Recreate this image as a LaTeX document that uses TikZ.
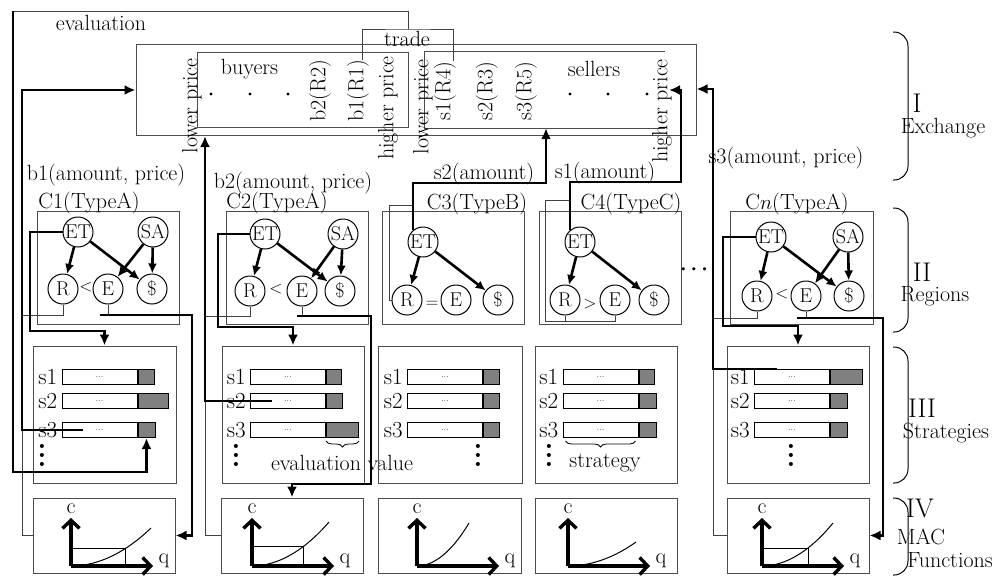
\documentclass[tikz,border=0pt]{standalone}
\usepackage{amsmath}
\usepackage{tikz}
\usetikzlibrary{positioning, arrows.meta, calc, decorations.pathreplacing}

\begin{document}
\begin{tikzpicture}[
        x=1pt, y=-1pt,
        font=\fontsize{22}{26}\selectfont,
        box/.style={
            rectangle,
            draw=black!70,
            line width=1pt,
            inner sep=0pt
        },
        agent/.style={
            circle,
            draw,
            line width=1pt,
            minimum size=30pt,
            inner sep=0pt,
            font=\fontsize{20}{20}\selectfont
        },
        rel/.style={
            inner sep=0pt,
            font=\fontsize{19}{19}\selectfont
        },
        vtext/.style={
            rotate=90,
            inner sep=0pt
        },
        bar/.style={
            rectangle,
            draw,
            line width=1pt,
            minimum width=75pt,
            minimum height=15pt,
            inner sep=0pt,
            font=\fontsize{9}{9}\selectfont
        },
        score/.style={
            rectangle,
            draw,
            line width=1pt,
            fill=black!50,
            minimum height=15pt,
            inner sep=0pt
        },
        slabel/.style={
            inner sep=0pt,
            font=\fontsize{23}{23}\selectfont
        },
        vdotsnode/.style={
            align=center,
            inner sep=0pt,
            font=\bfseries\fontsize{28}{9}\selectfont
        },
        roman/.style={
            inner sep=0pt,
            font=\fontsize{27}{27}\selectfont
        },
        link/.style={
            -{Latex[length=10pt, width=9pt]},
            line width=2.6pt
        },
        conn/.style={
            line width=2.8pt
        },
        arrow/.style={
            conn,
            -{Latex[length=11pt, width=10pt]}
        },
        wire/.style={
            line width=1pt,
            draw=black!75
        },
        axis/.style={
            line width=3.4pt,
            -{Straight Barb[length=8pt, width=17pt]}
        },
        layer/.style={
            line width=1pt,
            rounded corners=14pt
        }
    ]

    \useasboundingbox (0,0) rectangle (1002,576);

    % --------------------------------------------------------
    % Exchange
    % --------------------------------------------------------

    \node[box, minimum width=560pt, minimum height=91pt] (exchange)
        at (416,89.5) {};

    \node[box, minimum width=211pt, minimum height=75pt] (buyers)
        at (302.5,89.5) {};

    \node[minimum width=240pt, minimum height=76pt, inner sep=0pt] (sellers)
        at (545,90) {};
    \draw[draw=black!70, line width=1pt]
        (sellers.north east) -- (sellers.north west)
        -- (sellers.south west) -- (sellers.south east);

    \node (buyerstxt) at (249.5,69) {buyers};
    \node (sellerstxt) at (594,69) {sellers};

    \fill (211,94) circle (1.7pt) (250,94) circle (1.7pt) (288,94) circle (1.7pt);
    \fill (570,94) circle (1.7pt) (608,94) circle (1.7pt) (647,94) circle (1.7pt);

    \node[vtext] (lowleft) at (192,106) {lower price};
    \node[vtext] (b2r2) at (320,91) {b2(R2)};
    \node[vtext] (b1r1) at (358,91) {b1(R1)};
    \node[vtext] (highleft) at (388,108) {higher price};
    \node[vtext] (lowright) at (423,107) {lower price};
    \node[vtext] (s1r4) at (445,91) {s1(R4)};
    \node[vtext] (s2r3) at (487,91) {s2(R3)};
    \node[vtext] (s3r5) at (526,91) {s3(R5)};
    \node[vtext] (highright) at (662,111) {higher price};

    \node (trade) at (407,39) {trade};
    \node (evaltxt) at (101,23) {evaluation};

    % --------------------------------------------------------
    % Regions
    % --------------------------------------------------------

    % C1
    \node[box, minimum width=142pt, minimum height=113pt] (c1reg) at (108,267.5) {};
    \node (c1tag) at (89,203) {C1(TypeA)};
    \node[agent] (c1et) at (78,232) {ET};
    \node[agent] (c1sa) at (153,232) {SA};
    \node[agent] (c1r) at (63,289) {R};
    \node[agent] (c1e) at (108,289) {E};
    \node[agent] (c1d) at (152,289) {\$};
    \node[rel] (c1rel) at (86,287) {$<$};

    % C2
    \node[box, minimum width=142pt, minimum height=113pt] (c2reg) at (297,267.5) {};
    \node (c2tag) at (277,203) {C2(TypeA)};
    \node[agent] (c2et) at (265,234) {ET};
    \node[agent] (c2sa) at (343,234) {SA};
    \node[agent] (c2r) at (250,291) {R};
    \node[agent] (c2e) at (302,291) {E};
    \node[agent] (c2d) at (340,291) {\$};
    \node[rel] (c2rel) at (276,289) {$<$};

    % C3
    \node[box, minimum width=142pt, minimum height=113pt] (c3reg) at (453,267.5) {};
    \node (c3tag) at (477,204) {C3(TypeB)};
    \node[agent] (c3et) at (423,242) {ET};
    \node[agent] (c3r) at (407,300) {R};
    \node[agent] (c3e) at (456,300) {E};
    \node[agent] (c3d) at (498,300) {\$};
    \node[rel] (c3rel) at (432,304) {$=$};

    % C4
    \node[box, minimum width=142pt, minimum height=113pt] (c4reg) at (610,267.5) {};
    \node (c4tag) at (631,204) {C4(TypeC)};
    \node[agent] (c4et) at (580,242) {ET};
    \node[agent] (c4r) at (565,300) {R};
    \node[agent] (c4e) at (615,300) {E};
    \node[agent] (c4d) at (654,300) {\$};
    \node[rel] (c4rel) at (590,304) {$>$};

    \node (more) at (696,270) {$\boldsymbol{\cdots}$};

    % Cn
    \node[box, minimum width=143pt, minimum height=113pt] (cnreg) at (801.5,267.5) {};
    \node (cntag) at (797,204) {C$n$(TypeA)};
    \node[agent] (cnet) at (771,237) {ET};
    \node[agent] (cnsa) at (848,237) {SA};
    \node[agent] (cnr) at (757,296) {R};
    \node[agent] (cne) at (806,296) {E};
    \node[agent] (cnd) at (849,296) {\$};
    \node[rel] (cnrel) at (782,294) {$<$};

    % --------------------------------------------------------
    % Strategies
    % --------------------------------------------------------

    % C1
    \node[box, minimum width=143pt, minimum height=137pt] (c1str) at (104.5,414.5) {};
    \node[bar] (c1w1) at (99.5,377) {...};
    \node[bar] (c1w2) at (99.5,401) {...};
    \node[bar] (c1w3) at (99.5,430) {...};
    \node[score, minimum width=16pt, right=0pt of c1w1] (c1g1) {};
    \node[score, minimum width=30pt, right=0pt of c1w2] (c1g2) {};
    \node[score, minimum width=17pt, right=0pt of c1w3] (c1g3) {};
    \node[slabel, left=4pt of c1w1] (c1s1) {s1};
    \node[slabel, left=4pt of c1w2] (c1s2) {s2};
    \node[slabel, left=4pt of c1w3] (c1s3) {s3};
    \node[vdotsnode] (c1dots) at (42,455) {.\\.\\.};

    % C2
    \node[box, minimum width=142pt, minimum height=137pt] (c2str) at (293,414.5) {};
    \node[bar] (c2w1) at (288,377) {...};
    \node[bar] (c2w2) at (288,401) {...};
    \node[bar] (c2w3) at (288,430) {...};
    \node[score, minimum width=15pt, right=0pt of c2w1] (c2g1) {};
    \node[score, minimum width=16pt, right=0pt of c2w2] (c2g2) {};
    \node[score, minimum width=32pt, right=0pt of c2w3] (c2g3) {};
    \node[slabel, left=4pt of c2w1] (c2s1) {s1};
    \node[slabel, left=4pt of c2w2] (c2s2) {s2};
    \node[slabel, left=4pt of c2w3] (c2s3) {s3};
    \node[vdotsnode] (c2dots) at (236,455) {.\\.\\.};

    \draw[line width=0.8pt, decorate, decoration={brace, mirror, amplitude=6pt}]
        ([yshift=-3pt]c2g3.south west) -- ([yshift=-3pt]c2g3.south east);
    \node[inner sep=1pt] (evalval) at (342,463) {evaluation value};

    % C3
    \node[box, minimum width=144pt, minimum height=137pt] (c3str) at (450,414.5) {};
    \node[bar] (c3w1) at (445,377) {...};
    \node[bar] (c3w2) at (445,401) {...};
    \node[bar] (c3w3) at (445,430) {...};
    \node[score, minimum width=16pt, right=0pt of c3w1] (c3g1) {};
    \node[score, minimum width=16pt, right=0pt of c3w2] (c3g2) {};
    \node[score, minimum width=16pt, right=0pt of c3w3] (c3g3) {};
    \node[slabel, left=4pt of c3w1] (c3s1) {s1};
    \node[slabel, left=4pt of c3w2] (c3s2) {s2};
    \node[slabel, left=4pt of c3w3] (c3s3) {s3};
    \node[vdotsnode] (c3dots) at (478,455) {.\\.\\.};

    % C4
    \node[box, minimum width=142pt, minimum height=137pt] (c4str) at (606,414.5) {};
    \node[bar] (c4w1) at (600.5,377) {...};
    \node[bar] (c4w2) at (600.5,401) {...};
    \node[bar] (c4w3) at (600.5,430) {...};
    \node[score, minimum width=15pt, right=0pt of c4w1] (c4g1) {};
    \node[score, minimum width=17pt, right=0pt of c4w2] (c4g2) {};
    \node[score, minimum width=17pt, right=0pt of c4w3] (c4g3) {};
    \node[slabel, left=4pt of c4w1] (c4s1) {s1};
    \node[slabel, left=4pt of c4w2] (c4s2) {s2};
    \node[slabel, left=4pt of c4w3] (c4s3) {s3};
    \node[vdotsnode] (c4dots) at (549,455) {.\\.\\.};

    \draw[line width=0.8pt, decorate, decoration={brace, mirror, amplitude=6pt}]
        ([xshift=3pt, yshift=-3pt]c4w3.south west)
        -- ([xshift=-3pt, yshift=-3pt]c4w3.south east);
    \node[inner sep=1pt] (strat) at (605,463) {strategy};

    % Cn
    \node[box, minimum width=142pt, minimum height=137pt] (cnstr) at (798,414.5) {};
    \node[bar] (cnw1) at (792,377) {...};
    \node[bar] (cnw2) at (792,401) {...};
    \node[bar] (cnw3) at (792,430) {...};
    \node[score, minimum width=32pt, right=0pt of cnw1] (cng1) {};
    \node[score, minimum width=17pt, right=0pt of cnw2] (cng2) {};
    \node[score, minimum width=17pt, right=0pt of cnw3] (cng3) {};
    \node[slabel, left=4pt of cnw1] (cns1) {s1};
    \node[slabel, left=4pt of cnw2] (cns2) {s2};
    \node[slabel, left=4pt of cnw3] (cns3) {s3};
    \node[vdotsnode] (cndots) at (791,455) {.\\.\\.};

    % --------------------------------------------------------
    % MAC functions
    % --------------------------------------------------------

    \node[box, minimum width=142pt, minimum height=75pt] (c1mac) at (104,535.5) {};
    \node[box, minimum width=142pt, minimum height=75pt] (c2mac) at (292,535.5) {};
    \node[box, minimum width=143pt, minimum height=75pt] (c3mac) at (449.5,535.5) {};
    \node[box, minimum width=142pt, minimum height=75pt] (c4mac) at (606,535.5) {};
    \node[box, minimum width=142pt, minimum height=75pt] (cnmac) at (798,535.5) {};

    \coordinate (c1o) at (71,566);
    \coordinate (c2o) at (252,566);
    \coordinate (c3o) at (417,566);
    \coordinate (c4o) at (568,566);
    \coordinate (cno) at (762,566);

    % C1 curve
    \draw[wire, draw=black] (71,548) -| (125,566);
    \draw[wire, draw=black] (c1o) parabola (151,528);
    \draw[axis] (c1o) -- ++(0,-48) node[above, inner sep=3pt] (c1c) {c};
    \draw[axis] (c1o) -- ++(82,0)
        node[anchor=base west, inner sep=0pt, xshift=4pt, yshift=3pt] (c1q) {q};

    % C2 curve
    \draw[wire, draw=black] (252,546) -| (303,568);
    \draw[wire, draw=black] (c2o) parabola (329,522);
    \draw[axis] (c2o) -- ++(0,-48) node[above, inner sep=3pt] (c2c) {c};
    \draw[axis] (c2o) -- ++(82,0)
        node[anchor=base west, inner sep=0pt, xshift=4pt, yshift=3pt] (c2q) {q};

    % C3 curve
    \draw[wire, draw=black] (c3o) parabola (469,523);
    \draw[axis] (c3o) -- ++(0,-48) node[above, inner sep=3pt] (c3c) {c};
    \draw[axis] (c3o) -- ++(82,0)
        node[anchor=base west, inner sep=0pt, xshift=4pt, yshift=3pt] (c3q) {q};

    % C4 curve
    \draw[wire, draw=black] (c4o) parabola (636,542);
    \draw[axis] (c4o) -- ++(0,-48) node[above, inner sep=3pt] (c4c) {c};
    \draw[axis] (c4o) -- ++(82,0)
        node[anchor=base west, inner sep=0pt, xshift=4pt, yshift=3pt] (c4q) {q};

    % Cn curve
    \draw[wire, draw=black] (762,548) -| (808,566);
    \draw[wire, draw=black] (cno) parabola (833,523);
    \draw[axis] (cno) -- ++(0,-48) node[above, inner sep=3pt] (cnc) {c};
    \draw[axis] (cno) -- ++(82,0)
        node[anchor=base west, inner sep=0pt, xshift=4pt, yshift=3pt] (cnq) {q};

    % --------------------------------------------------------
    % Layers
    % --------------------------------------------------------

    \draw[layer] (893,32) -| (908,180) -- (893,180);
    \node[roman] (lvl1) at (917,103) {I};
    \node (lvl1txt) at (943,128) {Exchange};

    \draw[layer] (893,208) -| (908,332) -- (893,332);
    \node[roman] (lvl2) at (922,272) {II};
    \node (lvl2txt) at (935,296) {Regions};

    \draw[layer] (893,347) -| (908,483) -- (893,483);
    \node[roman] (lvl3) at (922,408) {III};
    \node (lvl3txt) at (946,433) {Strategies};

    \draw[layer] (893,498) -| (908,575) -- (893,575);
    \node[roman] (lvl4) at (920,508) {IV};
    \node (lvl4txt) at (921,537) {MAC};
    \node (lvl4txt2) at (950,560) {Functions};

    % --------------------------------------------------------
    % Connector labels
    % --------------------------------------------------------

    \node (b1lab) at (106,175) {b1(amount, price)};
    \node (b2lab) at (293,183) {b2(amount, price)};
    \node (s2lab) at (484,174) {s2(amount)};
    \node (s1lab) at (605,173) {s1(amount)};
    \node (s3lab) at (786,158) {s3(amount, price)};

    % --------------------------------------------------------
    % Turning points
    % --------------------------------------------------------

    \coordinate (tradetop) at (408,29);
    \coordinate (evaltop) at (13,11);
    \coordinate (evalbot) at (13,472);

    \coordinate (b1turn) at (22,90);
    \coordinate (c1loop) at (30,331);
    \coordinate (c1rail) at (22,315);
    \coordinate (c1ebar) at (100,315);
    \coordinate (c1drop) at (192,315);

    \coordinate (b2foot) at (205,136);
    \coordinate (c2loop) at (218,327);
    \coordinate (c2rail) at (205,316);
    \coordinate (c2ebar) at (297,316);
    \coordinate (c2drop) at (371,316);
    \coordinate (c2low) at (371,484);

    \coordinate (c3hook) at (389,205);
    \coordinate (s2turn) at (546,183);

    \coordinate (c4hook) at (545,321);
    \coordinate (c4top) at (570,200);
    \coordinate (s1turn) at (681,182);
    \coordinate (s1tip) at (669,90);

    \coordinate (cnloop) at (723,326);
    \coordinate (cnrail) at (713,318);
    \coordinate (cnebar) at (797,318);
    \coordinate (cndrop) at (883,318);
    \coordinate (s3turn) at (713,89);

    % --------------------------------------------------------
    % Thin wires
    % --------------------------------------------------------

    % trade and evaluation
    \draw[wire]
        ([xshift=4pt]b1r1.east) |- (tradetop) -| ([xshift=8pt]s1r4.east);
    \draw[wire]
        (tradetop) |- (evaltop);

    % R lines to the MAC functions
    \draw[wire] (c1r.south) |- (c1rail) |- (c1mac.west);
    \draw[wire] (c2r.south) |- (c2rail) |- (c2mac.west);
    \draw[wire] (cnr.south) |- (cnrail) |- (cnmac.west);

    % E stubs
    \draw[wire] (c1e.south) -- (c1e.south |- c1ebar);
    \draw[wire] (c2e.south) -- (c2e.south |- c2ebar);
    \draw[wire] (cne.south) -- (cne.south |- cnebar);

    % C3, C4 hooks
    \draw[wire] (c3r.west) -| (c3hook) -- (c3hook -| c3et.130);
    \draw[wire] (c4r.south) -- (c4r.south |- c4hook);
    \draw[wire] (c4e.south) |- (c4hook) |- (c4top);

    % --------------------------------------------------------
    % Region arrows
    % --------------------------------------------------------

    \draw[link] (c1et) -- (c1r);
    \draw[link] (c1et) -- (c1d);
    \draw[link] (c1sa) -- (c1e);
    \draw[link] (c1sa) -- (c1d);

    \draw[link] (c2et) -- (c2r);
    \draw[link] (c2et) -- (c2d);
    \draw[link] (c2sa) -- (c2e);
    \draw[link] (c2sa) -- (c2d);

    \draw[link] (c3et) -- (c3r);
    \draw[link] (c3et) -- (c3d);

    \draw[link] (c4et) -- (c4r);
    \draw[link] (c4et) -- (c4d);

    \draw[link] (cnet) -- (cnr);
    \draw[link] (cnet) -- (cnd);
    \draw[link] (cnsa) -- (cne);
    \draw[link] (cnsa) -- (cnd);

    % --------------------------------------------------------
    % Thick connectors
    % --------------------------------------------------------

    % evaluation -> C1 s3
    \draw[arrow]
        (evaltop) -- (evalbot) -| (c1g3.south);

    % C1 s3 -> exchange (b1)
    \draw[arrow]
        ([xshift=21pt]c1w3.west) -| (b1turn) -- (b1turn -| exchange.west);

    % C2 s2 -> exchange (b2)
    \draw[arrow]
        ([xshift=22pt]c2w2.west) -| (b2foot);

    % C3 ET -> sellers (s2)
    \draw[arrow]
        (c3et.130) |- (s2turn) -- (s2turn |- sellers.south);

    % C4 ET -> sellers (s1)
    \draw[arrow]
        (c4et.130) |- (s1turn) |- (s1tip);

    % Cn s1 -> exchange (s3)
    \draw[arrow]
        ([xshift=23pt]cnw1.north west) -| (s3turn) -- (s3turn -| exchange.east);

    % ET -> strategies
    \draw[arrow]
        (c1et.west) -| (c1loop) -| (c1str.north);
    \draw[arrow]
        (c2et.west) -| (c2loop) -| (c2str.north);
    \draw[arrow]
        (cnet.west) -| (cnloop) -| (cnstr.north);

    % E -> MAC functions
    \draw[arrow]
        (c1ebar) -- (c1drop) |- (c1mac.east);
    \draw[arrow]
        (c2ebar) -- (c2drop) -- (c2low) -| (c2mac.north);
    \draw[arrow]
        (cnebar) -- (cndrop) |- (cnmac.east);

\end{tikzpicture}
\end{document}
